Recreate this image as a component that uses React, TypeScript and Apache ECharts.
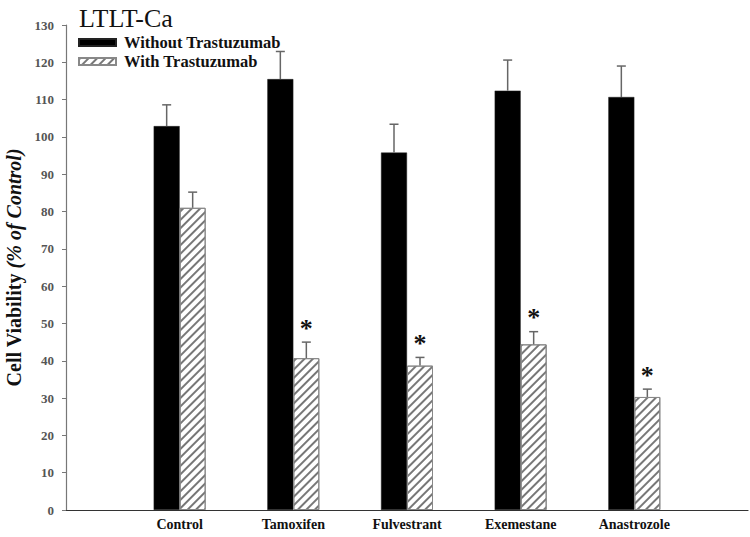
import React, { useEffect, useRef } from "react";
import * as echarts from "echarts";

const categories = ["Control", "Tamoxifen", "Fulvestrant", "Exemestane", "Anastrozole"];
const withoutValues = [102.9, 115.5, 95.8, 112.4, 110.7];
const withoutErrors = [5.7, 7.4, 7.6, 8.2, 8.3];
const withValues = [81.0, 40.7, 38.7, 44.4, 30.3];
const withErrors = [4.2, 4.3, 2.2, 3.4, 2.1];
const significant = [false, true, true, true, true];
const yTicks = { min: 0, max: 130, interval: 10 };

const SERIF = "'Liberation Serif', 'DejaVu Serif', serif";

export default function App() {
  const ref = useRef<HTMLDivElement>(null);
  useEffect(() => {
    if (!ref.current) return;
    const chart = echarts.init(ref.current, null, { renderer: "svg" });
    const cats = ["", ...categories, ""];
    const pad = (arr: any[]) => ["-", ...arr, "-"];
    const BW = 26;
    const errData = (vals: number[], errs: number[], flag: boolean[] | null) =>
      vals.map((v, i) => [i + 1, v, v + errs[i], flag ? (flag[i] ? 1 : 0) : 0]);
    const errRender = (offset: number, withStar: boolean) => (params: any, api: any) => {
      const x = api.value(0);
      const top = api.coord([x, api.value(1)]);
      const cap = api.coord([x, api.value(2)]);
      const cx = top[0] + offset;
      const children: any[] = [
        { type: "line", shape: { x1: cx, y1: top[1], x2: cx, y2: cap[1] }, style: { stroke: "#666", lineWidth: 1.5 } },
        { type: "line", shape: { x1: cx - 4.5, y1: cap[1], x2: cx + 4.5, y2: cap[1] }, style: { stroke: "#666", lineWidth: 1.5 } },
      ];
      if (withStar && api.value(3) === 1) {
        children.push({
          type: "text",
          style: {
            text: "*",
            x: cx,
            y: cap[1] - 1,
            align: "center",
            verticalAlign: "bottom",
            fontSize: 26,
            fontWeight: "bold",
            fontFamily: SERIF,
            fill: "#111",
          },
        });
      }
      return { type: "group", children };
    };
    const hatch = {
      symbol: "rect",
      symbolSize: 1,
      dashArrayX: [1, 0],
      dashArrayY: [1.2, 3.8],
      rotation: -Math.PI / 4,
      color: "#777",
      backgroundColor: "#fff",
    };
    chart.setOption({
      animation: false,
      backgroundColor: "#fff",
      title: {
        text: "LTLT-Ca",
        left: 74,
        top: 0,
        textStyle: { fontFamily: SERIF, fontSize: 26, fontWeight: "normal", color: "#111" },
      },
      legend: {
        orient: "vertical",
        left: 78,
        top: 34,
        padding: 0,
        itemWidth: 37,
        itemHeight: 7,
        itemGap: 2,
        icon: "rect",
        data: ["Without Trastuzumab", "With Trastuzumab"],
        textStyle: { fontFamily: SERIF, fontSize: 16.5, fontWeight: "bold", color: "#111", padding: [0, 0, 0, 3] },
      },
      grid: { left: 66, right: 2, top: 25, bottom: 27, containLabel: false, outerBoundsMode: "none" },
      xAxis: {
        type: "category",
        data: cats,
        boundaryGap: false,
        axisLine: { lineStyle: { color: "#333", width: 1.2 } },
        axisTick: { show: false },
        axisLabel: { fontFamily: SERIF, fontSize: 14, fontWeight: "bold", color: "#111", margin: 7, interval: 0 },
        splitLine: { show: false },
      },
      yAxis: {
        type: "value",
        min: yTicks.min,
        max: yTicks.max,
        interval: yTicks.interval,
        name: "{b|Cell Viability }{i|(% of Control)}",
        nameLocation: "middle",
        nameRotate: 90,
        nameGap: 39,
        nameTextStyle: {
          rich: {
            b: { fontFamily: SERIF, fontSize: 20, fontWeight: "bold", color: "#111" },
            i: { fontFamily: SERIF, fontSize: 20, fontWeight: "bold", fontStyle: "italic", color: "#111" },
          },
        },
        axisLine: { show: true, lineStyle: { color: "#777", width: 1.2 } },
        axisTick: { show: true, length: 4, lineStyle: { color: "#777" } },
        axisLabel: { fontFamily: SERIF, fontSize: 13, fontWeight: "bold", color: "#555", margin: 12 },
        splitLine: { show: false },
      },
      series: [
        {
          name: "Without Trastuzumab",
          type: "bar",
          data: pad(withoutValues),
          barWidth: BW,
          barGap: "0%",
          itemStyle: { color: "#000", borderColor: "#222", borderWidth: 0.5 },
        },
        {
          name: "With Trastuzumab",
          type: "bar",
          data: pad(withValues),
          barWidth: BW,
          barGap: "0%",
          itemStyle: {
            color: "#fff",
            borderColor: "#888",
            borderWidth: 1,
            decal: hatch,
          },
        },
        {
          type: "custom",
          renderItem: errRender(-BW / 2, false),
          data: errData(withoutValues, withoutErrors, null),
          encode: { x: 0, y: [1, 2] },
          z: 5,
        },
        {
          type: "custom",
          renderItem: errRender(BW / 2, true),
          data: errData(withValues, withErrors, significant),
          encode: { x: 0, y: [1, 2] },
          z: 5,
        },
      ],
    });
    return () => chart.dispose();
  }, []);
  return <div ref={ref} style={{ width: 750, height: 537, position: "absolute", left: 0, top: 0 }} />;
}
